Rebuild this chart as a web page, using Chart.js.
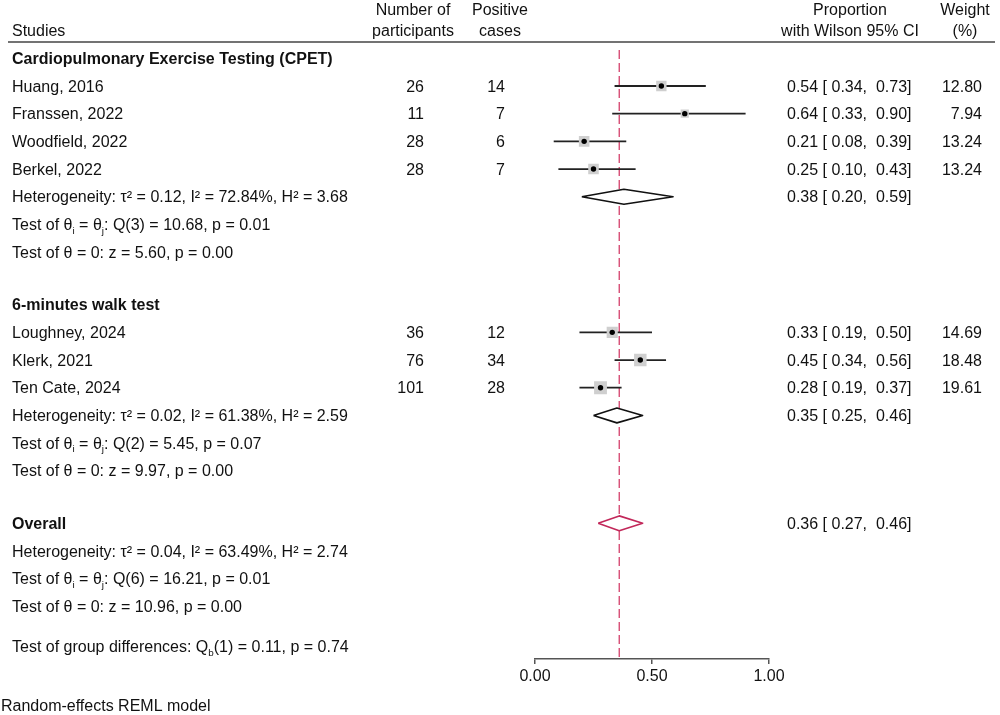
<!DOCTYPE html>
<html>
<head>
<meta charset="utf-8">
<script src="https://cdn.jsdelivr.net/npm/chart.js@4.4.1/dist/chart.umd.min.js"></script>
<style>
  html, body { margin: 0; padding: 0; background: #fff; }
  canvas { display: block; }
</style>
</head>
<body>
<canvas id="forest" width="1000" height="715"></canvas>
<script>
// data
const studies = ['Huang, 2016', 'Franssen, 2022', 'Woodfield, 2022', 'Berkel, 2022', 'Loughney, 2024', 'Klerk, 2021', 'Ten Cate, 2024'];
const participants = [26, 11, 28, 28, 36, 76, 101];
const positives = [14, 7, 6, 7, 12, 34, 28];
const estimates = [0.54, 0.64, 0.21, 0.25, 0.33, 0.45, 0.28];
const lower = [0.34, 0.33, 0.08, 0.10, 0.19, 0.34, 0.19];
const upper = [0.73, 0.90, 0.39, 0.43, 0.50, 0.56, 0.37];
const weights = [12.80, 7.94, 13.24, 13.24, 14.69, 18.48, 19.61];

const groups = ['Cardiopulmonary Exercise Testing (CPET)', '6-minutes walk test', 'Overall'];
const pooledEst = [0.38, 0.35, 0.36];
const pooledLow = [0.20, 0.25, 0.27];
const pooledHigh = [0.59, 0.46, 0.46];

const groupStats = [
  ['Heterogeneity: τ² = 0.12, I² = 72.84%, H² = 3.68', 'Test of θ_{i} = θ_{j}: Q(3) = 10.68, p = 0.01', 'Test of θ = 0: z = 5.60, p = 0.00'],
  ['Heterogeneity: τ² = 0.02, I² = 61.38%, H² = 2.59', 'Test of θ_{i} = θ_{j}: Q(2) = 5.45, p = 0.07', 'Test of θ = 0: z = 9.97, p = 0.00'],
  ['Heterogeneity: τ² = 0.04, I² = 63.49%, H² = 2.74', 'Test of θ_{i} = θ_{j}: Q(6) = 16.21, p = 0.01', 'Test of θ = 0: z = 10.96, p = 0.00']
];
const groupDiff = 'Test of group differences: Q_{b}(1) = 0.11, p = 0.74';
const footnote = 'Random-effects REML model';
const xTicks = [0, 0.5, 1];

// layout: row index of each line of the table
const studyRows = [1, 2, 3, 4, 9.9, 10.9, 11.9];
const headerRows = [0, 8.9, 16.8];
const pooledRows = [5, 12.9, 16.8];
const statRows = [[5, 6, 7], [12.9, 13.9, 14.9], [17.8, 18.8, 19.8]];
const diffRow = 21.25;
const ROW_MIN = -0.6, ROW_MAX = 21.7;

const FONT = '"Liberation Sans", Arial, Helvetica, sans-serif';
const TXT = '#111';
const RED = '#d33f69';
const fmt = v => v.toFixed(2);

// datasets
const datasets = [];

datasets.push({
  type: 'line', order: 9,
  data: [{ x: pooledEst[2], y: -0.3 }, { x: pooledEst[2], y: ROW_MAX }],
  borderColor: RED, borderWidth: 1.3, borderDash: [9, 4], pointRadius: 0
});

studies.forEach((s, i) => {
  datasets.push({
    type: 'line', order: 8,
    data: [{ x: lower[i], y: studyRows[i] }, { x: upper[i], y: studyRows[i] }],
    borderColor: '#222', borderWidth: 1.8, pointRadius: 0
  });
});

datasets.push({
  type: 'scatter', order: 7,
  data: estimates.map((e, i) => ({ x: e, y: studyRows[i] })),
  pointStyle: 'rect',
  pointRadius: c => 2.9 * Math.sqrt(weights[c.dataIndex]) / (2 * Math.SQRT1_2),
  backgroundColor: '#cfcfcf', borderWidth: 0
});

datasets.push({
  type: 'scatter', order: 6,
  data: estimates.map((e, i) => ({ x: e, y: studyRows[i] })),
  pointStyle: 'circle', pointRadius: 2.7,
  backgroundColor: '#000', borderWidth: 0
});

const halfH = 0.27;
pooledEst.forEach((e, g) => {
  const r = pooledRows[g];
  datasets.push({
    type: 'line', order: 1,
    data: [
      { x: pooledLow[g], y: r }, { x: e, y: r - halfH }, { x: pooledHigh[g], y: r },
      { x: e, y: r + halfH }, { x: pooledLow[g], y: r }
    ],
    borderColor: g === 2 ? '#c2285a' : '#111', borderWidth: 1.6, borderJoinStyle: 'round',
    backgroundColor: '#fff', fill: 'shape', pointRadius: 0, tension: 0
  });
});

// text with _{..} subscripts
function richText(ctx, str, x, y, size, align) {
  const parts = [];
  const re = /_\{([^}]*)\}/g;
  let last = 0, m;
  while ((m = re.exec(str))) {
    if (m.index > last) parts.push({ t: str.slice(last, m.index), sub: false });
    parts.push({ t: m[1], sub: true });
    last = re.lastIndex;
  }
  if (last < str.length) parts.push({ t: str.slice(last), sub: false });
  const fontFor = p => (p.sub ? (size * 0.62) : size) + 'px ' + FONT;
  let total = 0;
  parts.forEach(p => { ctx.font = fontFor(p); total += ctx.measureText(p.t).width; });
  let cx = align === 'right' ? x - total : align === 'center' ? x - total / 2 : x;
  ctx.textAlign = 'left';
  parts.forEach(p => {
    ctx.font = fontFor(p);
    ctx.fillText(p.t, cx, p.sub ? y + size * 0.22 : y);
    cx += ctx.measureText(p.t).width;
  });
}

const tablePlugin = {
  id: 'table',
  beforeDraw(chart) {
    const c = chart.ctx;
    c.save();
    c.fillStyle = '#fff';
    c.fillRect(0, 0, chart.width, chart.height);
    c.restore();
  },
  afterDraw(chart) {
    const c = chart.ctx;
    const yPix = r => chart.scales.y.getPixelForValue(r) + 5.6;
    c.save();
    c.fillStyle = TXT;
    c.textBaseline = 'alphabetic';
    const S = 16;

    // header
    c.font = S + 'px ' + FONT;
    c.textAlign = 'left';
    c.fillText('Studies', 12, 35.5);
    c.textAlign = 'center';
    c.fillText('Number of', 413, 14.5);
    c.fillText('participants', 413, 35.5);
    c.fillText('Positive', 500, 14.5);
    c.fillText('cases', 500, 35.5);
    c.fillText('Proportion', 850, 14.5);
    c.fillText('with Wilson 95% CI', 850, 35.5);
    c.fillText('Weight', 965, 14.5);
    c.fillText('(%)', 965, 35.5);

    c.strokeStyle = '#444';
    c.lineWidth = 1.5;
    c.beginPath();
    c.moveTo(8, 42);
    c.lineTo(995, 42);
    c.stroke();

    // group headers
    c.font = 'bold ' + S + 'px ' + FONT;
    c.textAlign = 'left';
    groups.forEach((g, i) => c.fillText(g, 12, yPix(headerRows[i])));

    // study rows
    c.font = S + 'px ' + FONT;
    studies.forEach((s, i) => {
      const y = yPix(studyRows[i]);
      c.textAlign = 'left';
      c.fillText(s, 12, y);
      c.fillText(fmt(estimates[i]) + ' [ ' + fmt(lower[i]) + ',  ' + fmt(upper[i]) + ']', 787, y);
      c.textAlign = 'right';
      c.fillText(String(participants[i]), 424, y);
      c.fillText(String(positives[i]), 505, y);
      c.fillText(fmt(weights[i]), 982, y);
    });

    // pooled estimates
    c.textAlign = 'left';
    pooledEst.forEach((e, g) => {
      c.fillText(fmt(e) + ' [ ' + fmt(pooledLow[g]) + ',  ' + fmt(pooledHigh[g]) + ']', 787, yPix(pooledRows[g]));
    });

    // heterogeneity / tests
    groupStats.forEach((lines, g) => {
      lines.forEach((t, k) => richText(c, t, 12, yPix(statRows[g][k]), S, 'left'));
    });
    richText(c, groupDiff, 12, yPix(diffRow), S, 'left');

    c.font = S + 'px ' + FONT;
    c.textAlign = 'left';
    c.fillText(footnote, 1, 711);
    c.restore();
  }
};

new Chart(document.getElementById('forest'), {
  type: 'scatter',
  data: { datasets },
  options: {
    responsive: false,
    animation: false,
    devicePixelRatio: 1,
    events: [],
    layout: { padding: { left: 535, right: 231, top: 41.7, bottom: 30 } },
    plugins: { legend: { display: false }, tooltip: { enabled: false } },
    scales: {
      x: {
        type: 'linear', min: 0, max: 1,
        afterBuildTicks: s => { s.ticks = xTicks.map(v => ({ value: v })); },
        afterFit: s => { s.height = 26; },
        ticks: {
          callback: v => fmt(v), autoSkip: false, maxRotation: 0,
          font: { size: 16, family: FONT }, color: TXT, padding: 3
        },
        grid: { drawOnChartArea: false, tickLength: 5, color: '#555', lineWidth: 1.5 },
        border: { color: '#555', width: 1.5 }
      },
      y: { type: 'linear', min: ROW_MIN, max: ROW_MAX, reverse: true, display: false }
    }
  },
  plugins: [tablePlugin]
});
</script>
</body>
</html>
